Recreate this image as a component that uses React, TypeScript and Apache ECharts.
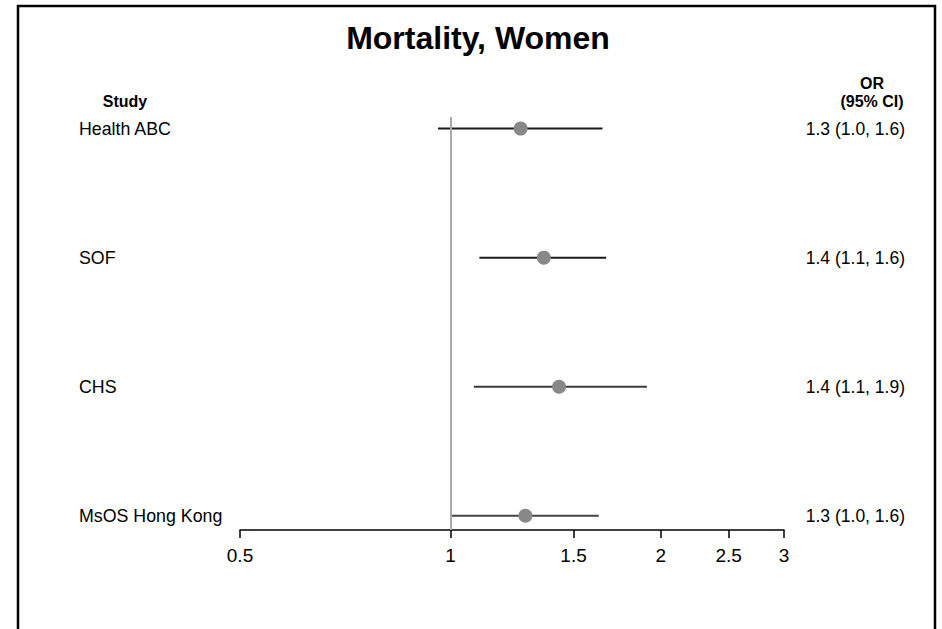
import React, { useEffect, useRef } from 'react';
import * as echarts from 'echarts';

const studies = ['Health ABC', 'SOF', 'CHS', 'MsOS Hong Kong'];
const estimates = [1.26, 1.36, 1.43, 1.28];
const lower = [0.96, 1.1, 1.08, 1.0];
const upper = [1.65, 1.67, 1.91, 1.63];
const orLabels = ['1.3 (1.0, 1.6)', '1.4 (1.1, 1.6)', '1.4 (1.1, 1.9)', '1.3 (1.0, 1.6)'];
const xTicks = [0.5, 1, 1.5, 2, 2.5, 3];
const rowValues = [4, 3, 2, 1];
const lineColors = ['#1a1a1a', '#1a1a1a', '#3a3a3a', '#444444'];

const FONT = '"Liberation Sans", Arial, Helvetica, sans-serif';

export default function App() {
  const ref = useRef<HTMLDivElement>(null);
  useEffect(() => {
    if (!ref.current) return;
    const chart = echarts.init(ref.current, undefined, { renderer: 'svg' });
    const ciData = studies.map((_, i) => [lower[i], upper[i], rowValues[i], i]);
    const ptData = studies.map((_, i) => [estimates[i], rowValues[i]]);
    const rowLabel = (arr: string[]) => (v: number) => {
      const idx = rowValues.indexOf(Math.round(v));
      return idx >= 0 ? arr[idx] : '';
    };
    chart.setOption({
      animation: false,
      backgroundColor: '#ffffff',
      textStyle: { fontFamily: FONT },
      grid: { left: 240, right: 158, top: 117, bottom: 99, containLabel: false },
      xAxis: {
        type: 'log',
        logBase: 10,
        min: 0.5,
        max: 3,
        position: 'bottom',
        axisLine: { show: true, lineStyle: { color: '#000', width: 1.5 } },
        axisTick: { show: true, length: 8, customValues: xTicks, lineStyle: { color: '#000', width: 1.5 } },
        axisLabel: {
          customValues: xTicks,
          color: '#000',
          fontSize: 19,
          fontFamily: FONT,
          margin: 16,
          formatter: (v: number) => String(Math.round(v * 10) / 10),
        },
        splitLine: { show: false },
        minorTick: { show: false },
        minorSplitLine: { show: false },
      },
      yAxis: [
        {
          type: 'value',
          min: 0.89,
          max: 4.09,
          position: 'left',
          axisLine: { show: false },
          axisTick: { show: false },
          splitLine: { show: false },
          axisLabel: {
            customValues: rowValues,
            align: 'left',
            margin: 161,
            color: '#000',
            fontSize: 17.8,
            fontFamily: FONT,
            formatter: rowLabel(studies),
          },
        },
        {
          type: 'value',
          min: 0.89,
          max: 4.09,
          position: 'right',
          axisLine: { show: false },
          axisTick: { show: false },
          splitLine: { show: false },
          axisLabel: {
            customValues: rowValues,
            align: 'right',
            margin: 121,
            color: '#000',
            fontSize: 17.5,
            fontFamily: FONT,
            formatter: rowLabel(orLabels),
          },
        },
      ],
      series: [
        {
          type: 'line',
          data: [],
          z: 1,
          silent: true,
          markLine: {
            silent: true,
            symbol: ['none', 'none'],
            label: { show: false },
            lineStyle: { color: '#aaaaaa', width: 2, type: 'solid' },
            data: [{ xAxis: 1 }],
          },
        },
        {
          type: 'custom',
          z: 2,
          silent: true,
          encode: { x: [0, 1], y: 2 },
          data: ciData,
          renderItem: (params: any, api: any) => {
            const lo = api.value(0);
            const hi = api.value(1);
            const y = api.value(2);
            const idx = api.value(3);
            const p1 = api.coord([lo, y]);
            const p2 = api.coord([hi, y]);
            return {
              type: 'line',
              shape: { x1: p1[0], y1: p1[1], x2: p2[0], y2: p2[1] },
              style: { stroke: lineColors[idx], lineWidth: 2 },
            };
          },
        },
        {
          type: 'scatter',
          z: 3,
          silent: true,
          symbol: 'circle',
          symbolSize: 14,
          itemStyle: { color: '#888888', opacity: 1 },
          data: ptData,
        },
      ],
      graphic: [
        {
          type: 'rect',
          shape: { x: 18, y: 6, width: 917, height: 700 },
          style: { fill: 'none', stroke: '#000', lineWidth: 2.5 },
          silent: true,
        },
        {
          type: 'text',
          x: 478,
          y: 38,
          style: { text: 'Mortality, Women', font: `bold 32px ${FONT}`, fill: '#000', align: 'center', verticalAlign: 'middle' },
        },
        {
          type: 'text',
          x: 125,
          y: 101,
          style: { text: 'Study', font: `bold 16px ${FONT}`, fill: '#000', align: 'center', verticalAlign: 'middle' },
        },
        {
          type: 'text',
          x: 872,
          y: 83,
          style: { text: 'OR', font: `bold 16px ${FONT}`, fill: '#000', align: 'center', verticalAlign: 'middle' },
        },
        {
          type: 'text',
          x: 872,
          y: 101,
          style: { text: '(95% CI)', font: `bold 16px ${FONT}`, fill: '#000', align: 'center', verticalAlign: 'middle' },
        },
      ],
    });
    return () => chart.dispose();
  }, []);
  return (
    <div
      ref={ref}
      style={{ position: 'absolute', left: 0, top: 0, width: 942, height: 629, background: '#fff' }}
    />
  );
}
